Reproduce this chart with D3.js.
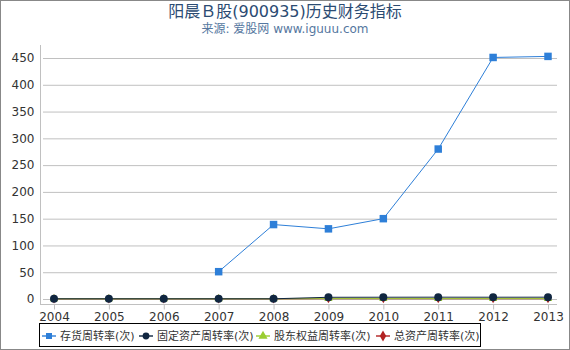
<!DOCTYPE html>
<html><head><meta charset="utf-8">
<script src="https://cdn.jsdelivr.net/npm/d3@7/dist/d3.min.js"></script>
<style>body{margin:0;background:#fff;font-family:"DejaVu Sans","Noto Sans CJK SC",sans-serif;}</style>
</head><body>
<svg id="c" width="570" height="350"></svg>
<script>
const years = ["2004","2005","2006","2007","2008","2009","2010","2011","2012","2013"];
const inventoryTurnover = [null,null,null,51,139,131,150,280,451,453];
const fixedAssetTurnover = [0.4,0.4,0.4,0.4,0.4,3.2,3.3,3.4,3.3,3.4];
const equityTurnover = [0.3,0.3,0.3,0.3,0.3,0.7,0.7,0.7,0.7,0.7];
const totalAssetTurnover = [0.2,0.2,0.2,0.2,0.2,0.5,0.5,0.5,0.5,0.5];
const yTicks = [0,50,100,150,200,250,300,350,400,450];
const seriesNames = ["存货周转率(次)","固定资产周转率(次)","股东权益周转率(次)","总资产周转率(次)"];

const svg = d3.select("#c");
svg.append("rect").attr("x",0.5).attr("y",0.5).attr("width",569).attr("height",349)
  .attr("fill","#fff").attr("stroke","#888").attr("stroke-width",1);

svg.append("text").attr("x",285).attr("y",17).attr("text-anchor","middle")
  .attr("font-size",16).attr("fill","#2b4b72").text("阳晨Ｂ股(900935)历史财务指标");
svg.append("text").attr("x",285).attr("y",33).attr("text-anchor","middle")
  .attr("font-size",12).attr("fill","#5577a0").text("来源: 爱股网 www.iguuu.com");

const x = d3.scalePoint().domain(years).range([54,548]);
const y = d3.scaleLinear().domain([0,450]).range([299,58]);

svg.append("g").selectAll("line").data(yTicks).join("line")
  .attr("x1",43).attr("x2",557).attr("y1",d=>y(d)+0.5).attr("y2",d=>y(d)+0.5)
  .attr("stroke","#c0c0c0").attr("stroke-width",1);

const ya = svg.append("g").attr("transform","translate(40.5,0)")
  .call(d3.axisLeft(y).tickValues(yTicks).tickSize(0).tickPadding(6));
ya.select(".domain").remove();
ya.selectAll("text").attr("font-size",12).attr("fill","#333").attr("font-family","DejaVu Sans");
svg.append("line").attr("x1",40.5).attr("x2",40.5).attr("y1",45).attr("y2",304).attr("stroke","#c0c0c0");

const xa = svg.append("g").attr("transform","translate(0,304.5)")
  .call(d3.axisBottom(x).tickSize(5).tickPadding(3));
xa.select(".domain").attr("d","M40,0H557").attr("stroke","#c0c0c0");
xa.selectAll(".tick line").attr("stroke","#c0c0c0");
xa.selectAll("text").attr("font-size",12).attr("fill","#333").attr("font-family","DejaVu Sans");

const series = [
  {vals: inventoryTurnover, color:"#2e7fd8", shape:"square", size:56},
  {vals: fixedAssetTurnover, color:"#102640", shape:"circle", size:50},
  {vals: equityTurnover, color:"#9acd32", shape:"triangle", size:30},
  {vals: totalAssetTurnover, color:"#b22222", shape:"diamond", size:24}
];
const symMap = {square:d3.symbolSquare, circle:d3.symbolCircle, triangle:d3.symbolTriangle, diamond:d3.symbolDiamond};

series.slice().reverse().forEach(s=>{
  const pts = years.map((yr,i)=>({yr, v:s.vals[i]})).filter(d=>d.v!=null);
  const line = d3.line().x(d=>x(d.yr)).y(d=>y(d.v));
  svg.append("path").datum(pts).attr("d",line).attr("fill","none")
    .attr("stroke",s.color).attr("stroke-width",1);
  svg.append("g").selectAll("path").data(pts).join("path")
    .attr("transform",d=>`translate(${x(d.yr)},${y(d.v)})`)
    .attr("d",d3.symbol().type(symMap[s.shape]).size(s.size))
    .attr("fill",s.color);
});

const lg = svg.append("g");
lg.append("rect").attr("x",39.5).attr("y",323.5).attr("width",441).attr("height",23)
  .attr("fill","#fff").attr("stroke","#000");
const lx = [49,146,263,383];
series.forEach((s,i)=>{
  const g = lg.append("g").attr("transform",`translate(${lx[i]},336)`);
  g.append("line").attr("x1",-7).attr("x2",7).attr("y1",0).attr("y2",0).attr("stroke",s.color).attr("stroke-width",2).attr("stroke-opacity",0.7);
  g.append("path")
    .attr("d",d3.symbol().type(symMap[s.shape]).size(36)).attr("fill",s.color);
  g.append("text").attr("x",11).attr("y",4).attr("font-size",11).attr("fill","#333").text(seriesNames[i]);
});
</script>
</body></html>
